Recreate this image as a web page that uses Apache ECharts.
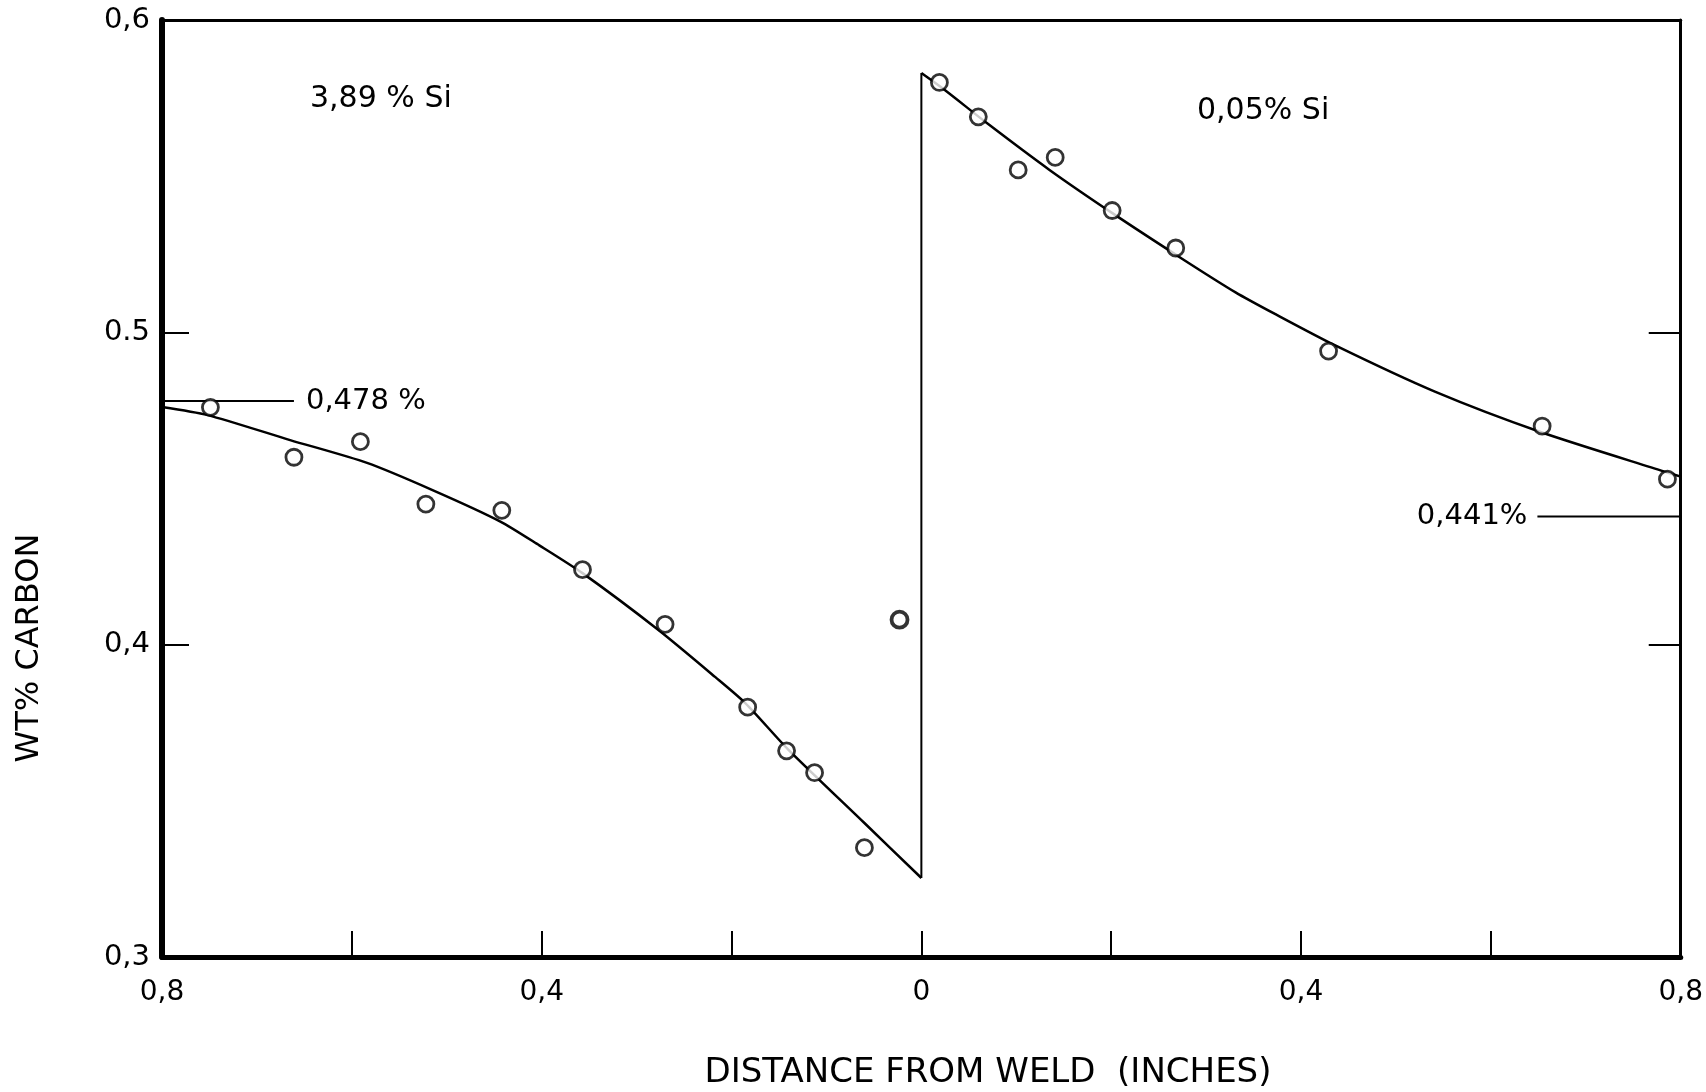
<!DOCTYPE html>
<html><head><meta charset="utf-8">
<script src="https://cdn.jsdelivr.net/npm/echarts@6/dist/echarts.min.js"></script>
<style>html,body{margin:0;padding:0;background:#fff}#c{width:1706px;height:1092px}</style>
</head><body><div id="c"></div>
<script>
// Measured points, 3.89 % Si side (distance toward the left, plotted negative)
const leftX = [-0.749, -0.661, -0.591, -0.522, -0.442, -0.357, -0.270, -0.183, -0.142, -0.1125, -0.060, -0.023];
const leftY = [0.476, 0.460, 0.465, 0.445, 0.443, 0.424, 0.4065, 0.380, 0.366, 0.359, 0.335, 0.408];
// Measured points, 0.05 % Si side
const rightX = [0.019, 0.060, 0.102, 0.141, 0.201, 0.268, 0.429, 0.654, 0.786];
const rightY = [0.580, 0.569, 0.552, 0.556, 0.539, 0.527, 0.494, 0.470, 0.453];
// Drawn fit curves
const leftFitX = [-0.8, -0.752, -0.665, -0.584, -0.515, -0.444, -0.4025, -0.357, -0.277, -0.217, -0.1855, -0.1405, -0.060, 0];
const leftFitY = [0.4761, 0.4735, 0.4655, 0.4582, 0.4495, 0.4395, 0.4318, 0.4229, 0.4047, 0.3896, 0.3813, 0.3665, 0.3429, 0.3253];
const rightFitX = [0, 0.025, 0.069, 0.135, 0.202, 0.275, 0.331, 0.373, 0.436, 0.541, 0.653, 0.782, 0.8];
const rightFitY = [0.583, 0.5775, 0.567, 0.552, 0.538, 0.5235, 0.5128, 0.5058, 0.4958, 0.481, 0.468, 0.4555, 0.4538];
// Reference levels
const refLeftLevel = 0.478, refLeftEnd = -0.661, refLeftText = '0,478 %';
const refRightLevel = 0.441, refRightStart = 0.649, refRightText = '0,441%';
// Ticks
const xTickValues = [-0.8, -0.4, 0, 0.4, 0.8];
const xTickLabels = ['0,8', '0,4', '0', '0,4', '0,8'];
const yTickValues = [0.3, 0.4, 0.5, 0.6];
const yTickLabels = ['0,3', '0,4', '0.5', '0,6'];
const leftTitle = '3,89 % Si', rightTitle = '0,05% Si';
const xName = 'DISTANCE FROM WELD  (INCHES)', yName = 'WT% CARBON';

const FONT = '"DejaVu Sans", "Liberation Sans", sans-serif';
const zip = (xs, ys) => xs.map((x, i) => [x, ys[i]]);
const findLab = (vals, labs, v) => { const i = vals.findIndex(t => Math.abs(t - v) < 1e-6); return i >= 0 ? labs[i] : ''; };

const chart = echarts.init(document.getElementById('c'));
const marker = { color: '#fff', borderColor: '#000', borderWidth: 2.8 };
const lineBase = { type: 'line', showSymbol: false, symbol: 'none', lineStyle: { color: '#000', width: 2.5 }, z: 3, silent: true };
const annotLabel = { show: true, color: '#000', fontSize: 29, fontFamily: FONT };

const leftPts = zip(leftX, leftY).map((p, i) => i === leftX.length - 1 ? { value: p, itemStyle: { borderWidth: 3.8 } } : p);

chart.setOption({
  animation: false,
  backgroundColor: '#fff',
  grid: { left: 162, right: 18, top: 20, bottom: 135, show: false },
  xAxis: [
    { type: 'value', min: -0.8, max: 0.8, interval: 0.2, position: 'bottom',
      axisLine: { onZero: false, lineStyle: { color: '#000', width: 5 } },
      axisTick: { inside: true, length: 26, lineStyle: { color: '#000', width: 2 } },
      axisLabel: { margin: 22, color: '#000', fontSize: 28, fontFamily: FONT, formatter: v => findLab(xTickValues, xTickLabels, v) },
      splitLine: { show: false } },
    { type: 'value', min: -0.8, max: 0.8, position: 'top',
      axisLine: { show: true, onZero: false, lineStyle: { color: '#000', width: 3 } },
      axisTick: { show: false }, axisLabel: { show: false }, splitLine: { show: false } }
  ],
  yAxis: [
    { type: 'value', min: 0.3, max: 0.6, interval: 0.1, position: 'left',
      axisLine: { show: true, onZero: false, lineStyle: { color: '#000', width: 6 } },
      axisTick: { show: true, inside: true, length: 27, lineStyle: { color: '#000', width: 2 } },
      axisLabel: { margin: 12, color: '#000', fontSize: 29, fontFamily: FONT, formatter: v => findLab(yTickValues, yTickLabels, v) },
      splitLine: { show: false } },
    { type: 'value', min: 0.3, max: 0.6, interval: 0.1, position: 'right',
      axisLine: { show: true, onZero: false, lineStyle: { color: '#000', width: 3 } },
      axisTick: { show: true, inside: true, length: 32, lineStyle: { color: '#000', width: 2 } },
      axisLabel: { show: false }, splitLine: { show: false } }
  ],
  series: [
    Object.assign({}, lineBase, { name: 'fit 3.89', smooth: 0.25, data: zip(leftFitX, leftFitY) }),
    Object.assign({}, lineBase, { name: 'fit 0.05', smooth: 0.25, data: zip(rightFitX, rightFitY) }),
    Object.assign({}, lineBase, { name: 'weld', lineStyle: { color: '#000', width: 2 },
      data: [[leftFitX[leftFitX.length - 1], leftFitY[leftFitY.length - 1]], [rightFitX[0], rightFitY[0]]] }),
    Object.assign({}, lineBase, { name: 'ref left', showSymbol: true, symbol: 'circle', symbolSize: 0, lineStyle: { color: '#000', width: 2 },
      data: [[-0.8, refLeftLevel], { value: [refLeftEnd, refLeftLevel], label: Object.assign({ position: 'right', distance: 12, formatter: refLeftText }, annotLabel) }] }),
    Object.assign({}, lineBase, { name: 'ref right', showSymbol: true, symbol: 'circle', symbolSize: 0, lineStyle: { color: '#000', width: 2 },
      data: [{ value: [refRightStart, refRightLevel], label: Object.assign({ position: 'left', distance: 10, formatter: refRightText }, annotLabel) }, [0.8, refRightLevel]] }),
    { type: 'scatter', name: '3.89 % Si', symbol: 'circle', symbolSize: 16, itemStyle: marker, z: 5, data: leftPts },
    { type: 'scatter', name: '0.05 % Si', symbol: 'circle', symbolSize: 16, itemStyle: marker, z: 5, data: zip(rightX, rightY) }
  ],
  graphic: [
    { type: 'text', left: 310, top: 84, style: { text: leftTitle, fill: '#000', font: '30px ' + FONT } },
    { type: 'text', left: 1197, top: 96, style: { text: rightTitle, fill: '#000', font: '30px ' + FONT } },
    { type: 'text', x: 988, y: 1073, style: { text: xName, fill: '#000', font: '34px ' + FONT, align: 'center', verticalAlign: 'middle' } },
    { type: 'text', x: 30, y: 648, rotation: Math.PI / 2, style: { text: yName, fill: '#000', font: '32px ' + FONT, align: 'center', verticalAlign: 'middle' } }
  ]
});
</script>
</body></html>
